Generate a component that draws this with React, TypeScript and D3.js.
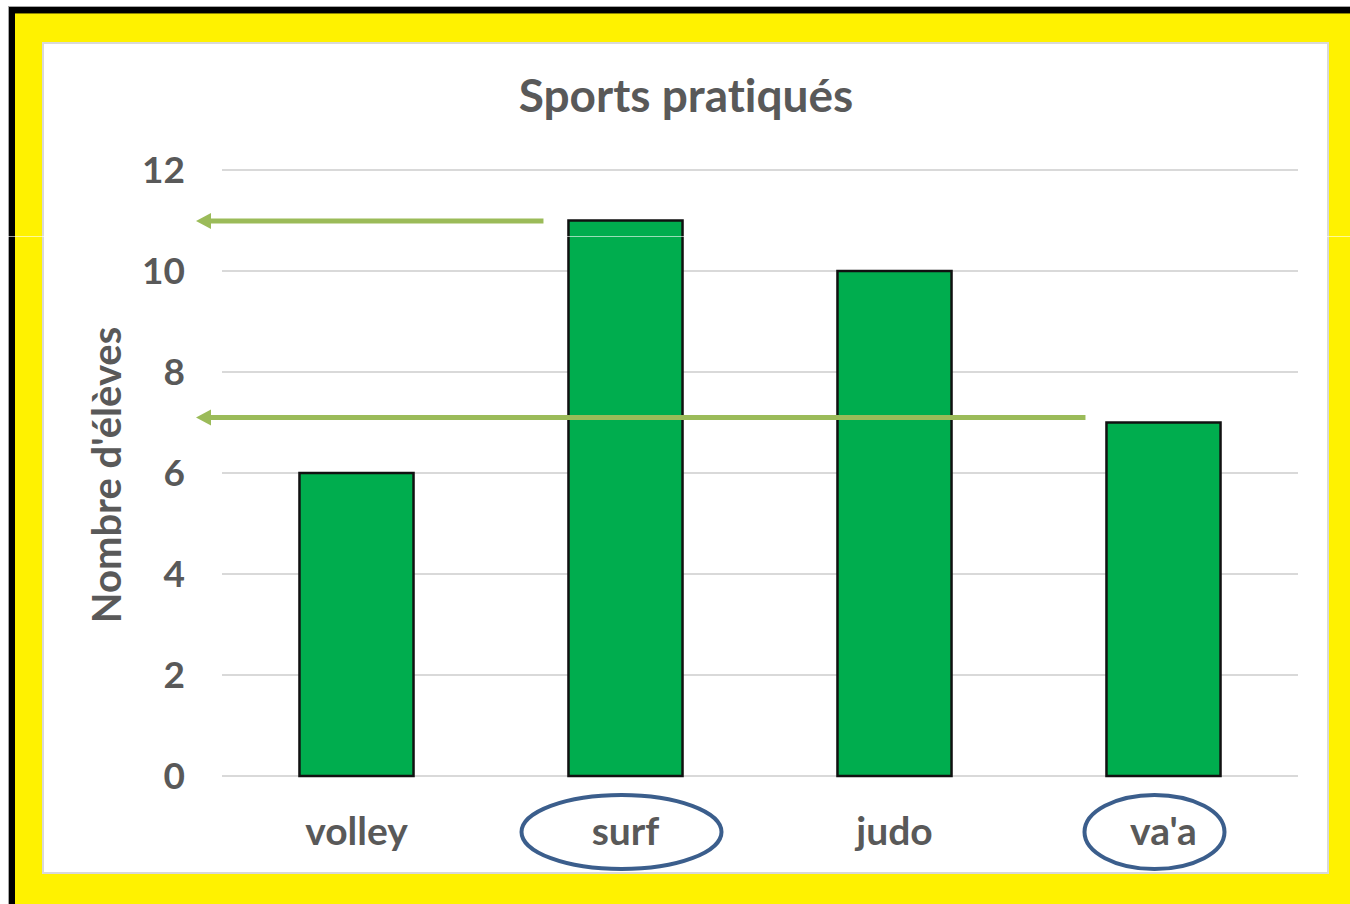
import React from "react";
import * as d3 from "d3";

const categories = ["volley", "surf", "judo", "va'a"];
const values = [6, 11, 10, 7];
const yTicks = [0, 2, 4, 6, 8, 10, 12];
const title = "Sports pratiqués";
const yTitle = "Nombre d'élèves";
// annotations: arrows pointing to the axis, circled categories
const arrowValues = [11, 7];
const arrowFrom = ["surf", "va'a"];
const circled = ["surf", "va'a"];

const W = 1350;
const H = 904;
const FONT = "Lato, 'Open Sans', sans-serif";
const TXT = "#595959";
const noLiga = { fontFeatureSettings: "'liga' 0, 'clig' 0, 'dlig' 0", fontVariantLigatures: "none" } as React.CSSProperties;

export default function App() {
	const x = d3.scaleBand().domain(categories).range([222, 1298]).paddingInner(0.576).paddingOuter(0.288);
	const y = d3.scaleLinear().domain([0, 12]).range([776, 170]);

	return (
		<svg width={W} height={H} style={{ position: "absolute", left: 0, top: 0 }} fontFamily={FONT}>
			<rect width={W} height={H} fill="#fff" />
			{/* frame */}
			<rect x={8} y={6} width={W - 8} height={H - 6} fill="#a6a6a6" />
			<rect x={9} y={7} width={W - 9} height={H - 7} fill="#000" />
			<rect x={15} y={13} width={W - 15} height={H - 13} fill="#8c8500" />
			<rect x={15} y={14} width={W - 15} height={H - 14} fill="#fff200" />
			<rect x={43} y={43} width={1285} height={830} fill="#fff" stroke="#d9d9d9" strokeWidth={2} />

			{/* title */}
			<text x={686} y={112} textAnchor="middle" fontSize={46} fontWeight="bold" fill={TXT} style={noLiga}>
				{title}
			</text>

			{/* grid + y ticks */}
			{yTicks.map((t) => (
				<g key={t}>
					<line x1={222} x2={1298} y1={y(t)} y2={y(t)} stroke="#d9d9d9" strokeWidth={2} />
					<text x={185} y={y(t)} dy="0.36em" textAnchor="end" fontSize={37} fontWeight="bold" fill={TXT}>
						{t}
					</text>
				</g>
			))}

			{/* y axis title */}
			<text
				transform={`translate(121, ${(y(0) + y(12)) / 2 + 2}) rotate(-90)`}
				textAnchor="middle"
				fontSize={40}
				fontWeight="bold"
				fill={TXT}
				style={noLiga}
			>
				{yTitle}
			</text>

			{/* bars */}
			{categories.map((c, i) => (
				<rect
					key={c}
					x={x(c)}
					y={y(values[i])}
					width={x.bandwidth()}
					height={y(0) - y(values[i])}
					fill="#00ad4e"
					stroke="#111"
					strokeWidth={2.5}
				/>
			))}

			{/* category labels */}
			{categories.map((c) => (
				<text key={c} x={x(c) + x.bandwidth() / 2} y={831} dy="0.36em" textAnchor="middle" fontSize={39} fontWeight="bold" fill={TXT} style={noLiga}>
					{c}
				</text>
			))}

			{/* arrows */}
			{arrowValues.map((v, i) => {
				const yy = y(v) + (i === 0 ? 0.5 : -5);
				const x0 = x(arrowFrom[i]) - (i === 0 ? 25 : 21);
				return (
					<g key={i}>
						<line x1={x0} x2={208} y1={yy} y2={yy} stroke="#9bbb59" strokeWidth={5} />
						<polygon points={`196,${yy} 211,${yy - 8} 211,${yy + 8}`} fill="#9bbb59" />
					</g>
				);
			})}

			{/* circles around labels */}
			{circled.map((c, i) => (
				<ellipse
					key={c}
					cx={x(c) + x.bandwidth() / 2 - (i === 0 ? 4 : 9)}
					cy={832}
					rx={i === 0 ? 100 : 70}
					ry={37}
					fill="none"
					stroke="#3b5e8c"
					strokeWidth={4}
				/>
			))}

			{/* scan artifact line */}
			<line x1={0} x2={W} y1={236.5} y2={236.5} stroke="#fff" strokeOpacity={0.6} strokeWidth={1} />
		</svg>
	);
}
